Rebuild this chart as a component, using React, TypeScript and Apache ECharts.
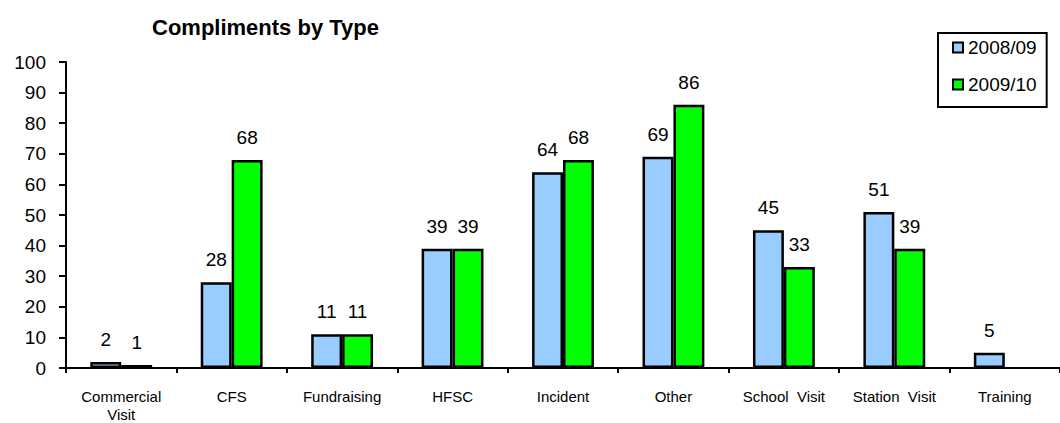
import React, { useEffect, useRef } from "react";
import * as echarts from "echarts";

const categories = [
  "Commercial\nVisit",
  "CFS",
  "Fundraising",
  "HFSC",
  "Incident",
  "Other",
  "School  Visit",
  "Station  Visit",
  "Training",
];
const series0809 = [2, 28, 11, 39, 64, 69, 45, 51, 5];
const series0910: (number | null)[] = [1, 68, 11, 39, 68, 86, 33, 39, null];
const seriesNames = ["2008/09", "2009/10"];
const seriesColors = ["#99CCFF", "#00FF00"];
const yTicks = { min: 0, max: 100, interval: 10 };

const FONT = "'Liberation Sans', Arial, sans-serif";

export default function App() {
  const ref = useRef<HTMLDivElement>(null);
  useEffect(() => {
    if (!ref.current) return;
    const chart = echarts.init(ref.current, null, { renderer: "svg" });
    const mkSeries = (name: string, data: (number | null)[], color: string) => ({
      name,
      type: "bar",
      data,
      barGap: "0%",
      barCategoryGap: "44%",
      itemStyle: { color, borderColor: "#000", borderWidth: 2.5 },
      label: {
        show: true,
        position: "top",
        distance: 13,
        color: "#000",
        fontSize: 19,
        fontFamily: FONT,
      },
    });
    chart.setOption({
      animation: false,
      backgroundColor: "#fff",
      textStyle: { fontFamily: FONT },
      title: {
        text: "Compliments by Type",
        left: 147,
        top: 11,
        textStyle: { fontSize: 22, fontWeight: "bold", color: "#000", fontFamily: FONT },
      },
      legend: {
        orient: "vertical",
        left: 938,
        top: 33,
        padding: [5, 10, 13, 14],
        itemGap: 18,
        itemWidth: 10,
        itemHeight: 10,
        itemTextGap: 3,
        borderColor: "#000",
        borderWidth: 2,
        icon: "rect",
        textStyle: { fontSize: 19, color: "#000", fontFamily: FONT },
        data: seriesNames,
      },
      grid: { left: 66, top: 62, bottom: 47, right: -9 },
      xAxis: {
        type: "category",
        data: categories,
        axisLine: { lineStyle: { color: "#000", width: 2 } },
        axisTick: { show: true, length: 5, lineStyle: { color: "#000", width: 2 } },
        axisLabel: {
          color: "#000",
          fontSize: 15,
          fontFamily: FONT,
          margin: 19,
          lineHeight: 18,
          interval: 0,
        },
      },
      yAxis: {
        type: "value",
        min: yTicks.min,
        max: yTicks.max,
        interval: yTicks.interval,
        splitLine: { show: false },
        axisLine: { show: true, lineStyle: { color: "#000", width: 2 } },
        axisTick: { show: true, length: 7, lineStyle: { color: "#000", width: 2 } },
        axisLabel: { color: "#000", fontSize: 19, fontFamily: FONT, margin: 20 },
      },
      series: [
        mkSeries(seriesNames[0], series0809, seriesColors[0]),
        mkSeries(seriesNames[1], series0910, seriesColors[1]),
      ],
    });
    return () => chart.dispose();
  }, []);
  return (
    <div
      ref={ref}
      style={{ position: "absolute", left: 0, top: 0, width: 1060, height: 423 }}
    />
  );
}
